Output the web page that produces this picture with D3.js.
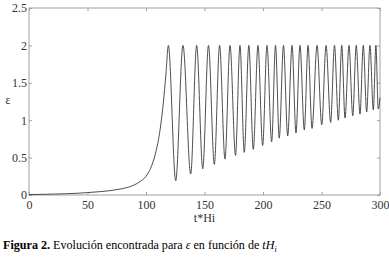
<!DOCTYPE html>
<html lang="es">
<head>
<meta charset="UTF-8">
<title>Figura 2</title>
<script src="https://d3js.org/d3.v7.min.js"></script>
<style>
    body { margin: 0; background: #fff; }
    svg text { font-family: "Liberation Serif", "DejaVu Serif", "Times New Roman", Times, serif; }
</style>
</head>
<body>
<div id="chart"></div>
<script>
    // tick labels
    const xTicks = [0, 50, 100, 150, 200, 250, 300];
    const yTicks = [0, 0.5, 1, 1.5, 2, 2.5];

    // slow growth before the first oscillation (t*Hi, epsilon)
    const growthT = [0, 20, 40, 50, 60, 70, 78, 85, 90, 95, 100, 104, 108, 112, 114.8, 117.1];
    const growthV = [0.005, 0.012, 0.022, 0.032, 0.044, 0.06, 0.08, 0.105, 0.135, 0.18, 0.25, 0.36, 0.55, 0.87, 1.23, 1.63];

    // maxima (all reach 2) and minima of the oscillations
    const peakT = [119.1, 131.6, 143.3, 153.4, 162.9, 171.8, 180.3, 187.9, 195.7, 203.4, 210.7, 217.5,
        224.8, 231.6, 238.5, 246.2, 253.9, 261.1, 267.3, 273.5, 279.7, 285.7, 291.4, 296.5];
    const peakV = 2;
    const troughT = [125.4, 138.2, 148.5, 158.4, 167.5, 176.5, 184.0, 191.7, 199.7, 207.4, 213.9, 221.1,
        228.2, 235.3, 241.9, 250.2, 257.8, 264.4, 270.1, 276.7, 282.9, 288.6, 294.3, 298.5];
    const troughV = [0.19, 0.28, 0.35, 0.41, 0.48, 0.53, 0.57, 0.61, 0.66, 0.71, 0.76, 0.79,
        0.83, 0.87, 0.89, 0.94, 0.97, 1.00, 1.03, 1.06, 1.08, 1.11, 1.14, 1.15];
    const endT = 300, endV = 1.3;

    const W = 389, H = 260;
    const margin = { top: 8, right: 9, bottom: 65, left: 29 };
    const width = W - margin.left - margin.right,
        height = H - margin.top - margin.bottom;

    const svg = d3.select("#chart").append("svg")
        .attr("width", W)
        .attr("height", H);

    const g = svg.append("g")
        .attr("transform", "translate(" + margin.left + "," + margin.top + ")");

    const x = d3.scaleLinear().domain([0, 300]).range([0, width]);
    const y = d3.scaleLinear().domain([0, 2.5]).range([height, 0]);

    // build the series from the arrays
    let data = growthT.map((t, i) => ({ t: t, v: growthV[i] }));
    peakT.forEach(t => data.push({ t: t, v: peakV }));
    troughT.forEach((t, i) => data.push({ t: t, v: troughV[i] }));
    data.push({ t: endT, v: endV });
    data.sort((a, b) => a.t - b.t);

    // frame
    g.append("rect")
        .attr("width", width)
        .attr("height", height)
        .attr("fill", "none")
        .attr("stroke", "#a0a0a0")
        .attr("stroke-width", 1);

    function styleAxis(sel) {
        sel.attr("font-family", null).attr("font-size", 12);
        sel.select(".domain").remove();
        sel.selectAll(".tick line").attr("stroke", "#a0a0a0");
        sel.selectAll(".tick text").attr("fill", "#333");
    }

    g.append("g")
        .attr("transform", "translate(0," + height + ")")
        .call(d3.axisBottom(x).tickValues(xTicks).tickSizeInner(-3).tickSizeOuter(0).tickPadding(5))
        .call(styleAxis);

    g.append("g")
        .call(d3.axisTop(x).tickValues(xTicks).tickSizeInner(-3).tickSizeOuter(0).tickFormat(""))
        .call(styleAxis);

    g.append("g")
        .call(d3.axisLeft(y).tickValues(yTicks).tickSizeInner(-3).tickSizeOuter(0).tickPadding(2)
            .tickFormat(d3.format("")))
        .call(styleAxis);

    g.append("g")
        .attr("transform", "translate(" + width + ",0)")
        .call(d3.axisRight(y).tickValues(yTicks).tickSizeInner(-3).tickSizeOuter(0).tickFormat(""))
        .call(styleAxis);

    // the curve
    const line = d3.line()
        .x(d => x(d.t))
        .y(d => y(d.v))
        .curve(d3.curveMonotoneX);

    g.append("path")
        .datum(data)
        .attr("fill", "none")
        .attr("stroke", "#3a3a3a")
        .attr("stroke-width", 0.9)
        .attr("d", line);

    // axis labels
    g.append("text")
        .attr("x", width / 2)
        .attr("y", height + 27)
        .attr("text-anchor", "middle")
        .attr("fill", "#333")
        .attr("font-size", 12)
        .text("t*Hi");

    svg.append("text")
        .attr("x", 8)
        .attr("y", 104)
        .attr("text-anchor", "middle")
        .attr("fill", "#333")
        .attr("font-size", 12)
        .text("ε");

    // caption
    const cap = svg.append("text")
        .attr("x", 3)
        .attr("y", 249)
        .attr("fill", "#000")
        .attr("font-size", 12.1);
    cap.append("tspan").attr("font-weight", "bold").text("Figura 2.");
    cap.append("tspan").text(" Evolución encontrada para ");
    cap.append("tspan").attr("font-style", "italic").text(" ε");
    cap.append("tspan").text(" en función de ");
    cap.append("tspan").attr("font-style", "italic").text("tH");
    cap.append("tspan").attr("font-style", "italic").attr("font-size", 8).attr("dy", 3).text("i");
</script>
</body>
</html>
